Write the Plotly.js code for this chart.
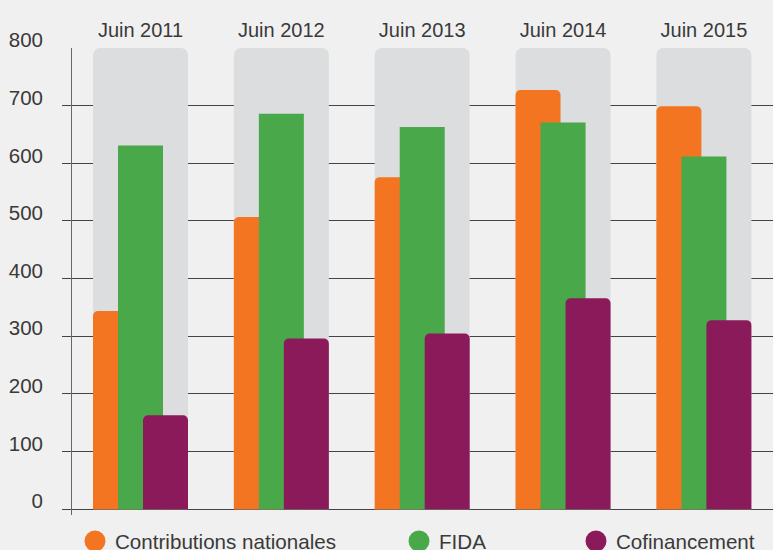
<!DOCTYPE html>
<html>
<head>
<meta charset="utf-8">
<script src="https://cdn.plot.ly/plotly-3.0.1.min.js"></script>
<style>html,body{margin:0;padding:0;background:#f0f0f0;}#chart{width:773px;height:550px;}</style>
</head>
<body>
<div id="chart"></div>
<script>
// ---- data ----
var categories = ["Juin 2011", "Juin 2012", "Juin 2013", "Juin 2014", "Juin 2015"];
var contributionsNationales = [344, 507, 576, 727, 699];
var fida = [631, 686, 663, 671, 612];
var cofinancement = [163, 296, 305, 366, 328];
var seriesNames = ["Contributions nationales", "FIDA", "Cofinancement"];
var yTickVals = [0, 100, 200, 300, 400, 500, 600, 700, 800];
var yGridVals = [0, 100, 200, 300, 400, 500, 600, 700];
var columnMax = 800;

// ---- styles ----
var colors = ["#f47521", "#48a84a", "#8a1a5a"];
var greyCol = "#dcdddf";
var txt = "#3a3a3a";
var font = "Liberation Sans, Arial, sans-serif";

var colW = 0.6745, barW = 0.3195, step = 0.1775, colOff = -0.3372;

var traces = [];
traces.push({
  type: "bar", x: categories, y: categories.map(function(){return columnMax;}),
  width: colW, offset: colOff, marker: {color: greyCol, cornerradius: 7},
  showlegend: false, hoverinfo: "skip"
});
var vals = [contributionsNationales, fida, cofinancement];
for (var i = 0; i < 3; i++) {
  traces.push({
    type: "bar", x: categories, y: vals[i], name: seriesNames[i],
    width: barW, offset: colOff + i * step,
    marker: {color: colors[i], cornerradius: 5},
    showlegend: false
  });
}
// helper trace so the label axis is drawn
traces.push({type: "scatter", mode: "markers", x: [null], y: [null], yaxis: "y2",
  showlegend: false, hoverinfo: "skip"});

var legendIds = ["legend", "legend2", "legend3"];
for (var j = 0; j < 3; j++) {
  traces.push({
    type: "scatter", mode: "markers", x: [null], y: [null], name: seriesNames[j],
    marker: {size: 22, color: colors[j], line: {width: 5, color: colors[j]}},
    legend: legendIds[j], showlegend: true, hoverinfo: "skip"
  });
}

function leg(xpx) {
  return {
    x: (xpx - 72) / 701, xanchor: "left", y: -0.056, yanchor: "middle",
    orientation: "h", bgcolor: "rgba(0,0,0,0)", borderwidth: 0,
    font: {family: font, size: 20.6, color: txt}
  };
}

var layout = {
  width: 773, height: 550,
  margin: {l: 72, r: 0, t: 48, b: 35, autoexpand: false},
  paper_bgcolor: "#f0f0f0", plot_bgcolor: "#f0f0f0",
  barmode: "overlay",
  font: {family: font, size: 20, color: txt},
  xaxis: {
    type: "category", range: [-0.4863, 4.4906], side: "top",
    showgrid: false, zeroline: false, showline: false, ticks: "",
    tickfont: {family: font, size: 20, color: txt}, ticklabelstandoff: 6
  },
  yaxis: {
    range: [-9.9, 800], tickvals: yGridVals, showticklabels: false,
    ticks: "outside", ticklen: 9, tickcolor: "#444", tickwidth: 1,
    showgrid: true, gridcolor: "#444", gridwidth: 1,
    zeroline: false, showline: true, linecolor: "#666", linewidth: 1
  },
  yaxis2: {
    overlaying: "y", side: "left", range: [-9.9, 800], tickvals: yTickVals,
    showgrid: false, zeroline: false, showline: false, ticks: "",
    tickfont: {family: font, size: 20.5, color: txt},
    ticklabelstandoff: 28, ticklabelshift: -8
  },
  legend: leg(75), legend2: leg(399), legend3: leg(576),
  showlegend: true
};

Plotly.newPlot("chart", traces, layout, {displayModeBar: false, staticPlot: true});
</script>
</body>
</html>
